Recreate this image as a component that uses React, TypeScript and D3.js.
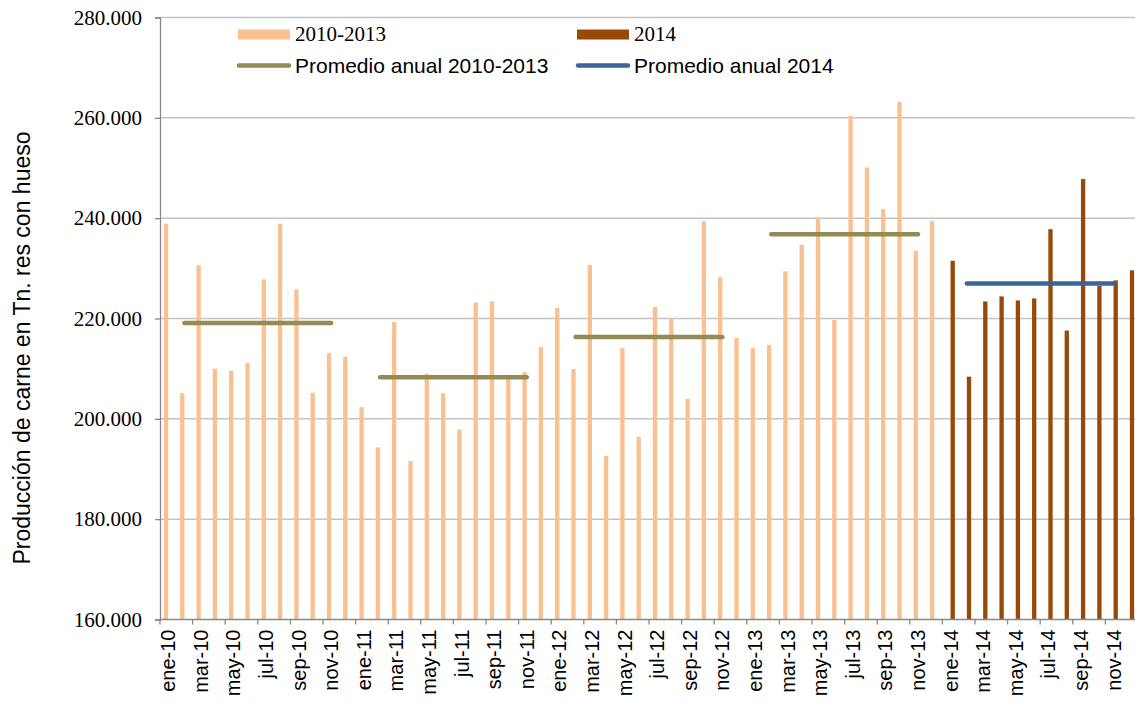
import * as d3 from "d3";
import React, { useEffect, useRef } from "react";

// month labels, ene-10 .. dic-14
const monthNames = ["ene", "feb", "mar", "abr", "may", "jun", "jul", "ago", "sep", "oct", "nov", "dic"];
const years = ["10", "11", "12", "13", "14"];
const categories: string[] = years.flatMap((y) => monthNames.map((m) => `${m}-${y}`));

// monthly production 2010-2013 (Tn.)
const values2010_2013 = [
    238900, 205100, 230600, 210000, 209600, 211100, 227800, 238900, 225800, 205200, 213100, 212400,
    202300, 194300, 219300, 191600, 209000, 205100, 197900, 223200, 223400, 207900, 209300, 214300,
    222100, 209900, 230700, 192600, 214100, 196400, 222300, 220000, 204000, 239400, 228300, 216100,
    214100, 214700, 229400, 234700, 240100, 219700, 260400, 250100, 241800, 263200, 233500, 239400,
];

// monthly production 2014
const values2014 = [231500, 208400, 223400, 224400, 223600, 224000, 237800, 217600, 247800, 226500, 227600, 229600];

// yearly averages (drawn feb..nov of each year)
const avgYears = ["10", "11", "12", "13"];
const avg2010_2013 = [219100, 208300, 216300, 236800];
const avg2014 = 227000;

const yTicks = [160000, 180000, 200000, 220000, 240000, 260000, 280000];

const lightColor = "#FAC090";
const darkColor = "#984807";
const oliveColor = "#948A54";
const blueColor = "#3A6596";

const App = () => {
    const svgRef = useRef<SVGSVGElement>(null);

    const width = 1135;
    const height = 702;
    const left = 160;
    const top = 17.5;
    const bottom = 619.5;
    const band = 16.3;

    useEffect(() => {
        const svg = d3.select(svgRef.current);
        svg.selectAll("*").remove();

        const fmt = d3.formatLocale({ decimal: ",", thousands: ".", grouping: [3], currency: ["", ""] }).format(",d");

        const x = d3.scaleBand<string>()
            .domain(categories)
            .range([left, left + band * categories.length])
            .padding(0);
        const barW = 4.3;
        const xs = d3.scaleBand<string>()
            .domain(["a", "b"])
            .range([band / 2 - barW, band / 2 + barW]);
        const y = d3.scaleLinear().domain([160000, 280000]).range([bottom, top]);

        // gridlines
        svg.append("g")
            .selectAll("line")
            .data(yTicks.slice(1))
            .enter()
            .append("line")
            .attr("x1", left)
            .attr("x2", width)
            .attr("y1", (d) => y(d))
            .attr("y2", (d) => y(d))
            .attr("stroke", "#C4C4C4")
            .attr("stroke-width", 1.5);

        // bars 2010-2013
        svg.append("g")
            .selectAll("rect")
            .data(values2010_2013)
            .enter()
            .append("rect")
            .attr("x", (d, i) => (x(categories[i]) as number) + (xs("a") as number))
            .attr("y", (d) => y(d))
            .attr("width", xs.bandwidth())
            .attr("height", (d) => y(160000) - y(d))
            .attr("fill", lightColor);

        // bars 2014
        svg.append("g")
            .selectAll("rect")
            .data(values2014)
            .enter()
            .append("rect")
            .attr("x", (d, i) => (x(categories[48 + i]) as number) + (xs("b") as number))
            .attr("y", (d) => y(d))
            .attr("width", xs.bandwidth())
            .attr("height", (d) => y(160000) - y(d))
            .attr("fill", darkColor);

        // average lines
        const cx = (c: string) => (x(c) as number) + band / 2;
        svg.append("g")
            .selectAll("line")
            .data(avg2010_2013)
            .enter()
            .append("line")
            .attr("x1", (d, i) => cx(`feb-${avgYears[i]}`))
            .attr("x2", (d, i) => cx(`nov-${avgYears[i]}`))
            .attr("y1", (d) => y(d))
            .attr("y2", (d) => y(d))
            .attr("stroke", oliveColor)
            .attr("stroke-width", 4.5)
            .attr("stroke-linecap", "round");
        svg.append("line")
            .attr("x1", cx("feb-14"))
            .attr("x2", cx("nov-14"))
            .attr("y1", y(avg2014))
            .attr("y2", y(avg2014))
            .attr("stroke", blueColor)
            .attr("stroke-width", 4.5)
            .attr("stroke-linecap", "round");

        // y axis
        const yAxis = d3.axisLeft(y).tickValues(yTicks).tickSize(5).tickPadding(13).tickFormat((d) => fmt(d as number));
        const yAxisGroup = svg.append("g")
            .attr("transform", `translate(${left}, 0)`)
            .call(yAxis);
        yAxisGroup.select(".domain").attr("stroke", "#888888").attr("stroke-width", 1.3);
        yAxisGroup.selectAll("line").attr("stroke", "#888888").attr("stroke-width", 1.3);
        yAxisGroup.selectAll("text")
            .attr("fill", "#000")
            .style("font", "21px 'Liberation Serif', 'Times New Roman', serif");

        // x axis
        const labelCats = categories.filter((c, i) => i % 2 === 0);
        svg.append("line")
            .attr("x1", left)
            .attr("x2", width)
            .attr("y1", bottom)
            .attr("y2", bottom)
            .attr("stroke", "#888888")
            .attr("stroke-width", 1.3);
        svg.append("g")
            .selectAll("line")
            .data(labelCats)
            .enter()
            .append("line")
            .attr("x1", (d) => x(d) as number)
            .attr("x2", (d) => x(d) as number)
            .attr("y1", bottom)
            .attr("y2", bottom + 5)
            .attr("stroke", "#888888")
            .attr("stroke-width", 1.3);
        svg.append("g")
            .selectAll("text")
            .data(labelCats)
            .enter()
            .append("text")
            .attr("transform", (d) => `translate(${cx(d)}, ${bottom + 10}) rotate(-90)`)
            .attr("text-anchor", "end")
            .attr("dominant-baseline", "central")
            .style("font", "20px 'Liberation Sans', Arial, sans-serif")
            .text((d) => d);

        // y title
        svg.append("text")
            .attr("transform", `translate(22, 348) rotate(-90)`)
            .attr("text-anchor", "middle")
            .attr("dominant-baseline", "central")
            .style("font", "23px 'Liberation Sans', Arial, sans-serif")
            .text("Producción de carne en Tn. res con hueso");

        // legend
        const legend = svg.append("g");
        const swatches = [
            { x: 238, label: "2010-2013", color: lightColor },
            { x: 577, label: "2014", color: darkColor },
        ];
        swatches.forEach((s) => {
            legend.append("rect").attr("x", s.x).attr("y", 29.5).attr("width", 52).attr("height", 10).attr("fill", s.color);
            legend.append("text")
                .attr("x", s.x + 57)
                .attr("y", 41)
                .style("font", "21px 'Liberation Serif', 'Times New Roman', serif")
                .text(s.label);
        });
        const lines = [
            { x: 238, label: "Promedio anual 2010-2013", color: oliveColor },
            { x: 577, label: "Promedio anual 2014", color: blueColor },
        ];
        lines.forEach((s) => {
            legend.append("line")
                .attr("x1", s.x + 1).attr("x2", s.x + 51)
                .attr("y1", 65.5).attr("y2", 65.5)
                .attr("stroke", s.color).attr("stroke-width", 4.5).attr("stroke-linecap", "round");
            legend.append("text")
                .attr("x", s.x + 57)
                .attr("y", 72.5)
                .style("font", "21px 'Liberation Sans', Arial, sans-serif")
                .text(s.label);
        });
    }, []);

    return (
        <svg
            ref={svgRef}
            width={width}
            height={height}
            style={{ position: "absolute", left: 0, top: 0, background: "#fff", overflow: "hidden" }}
        />
    );
};

export default App;
